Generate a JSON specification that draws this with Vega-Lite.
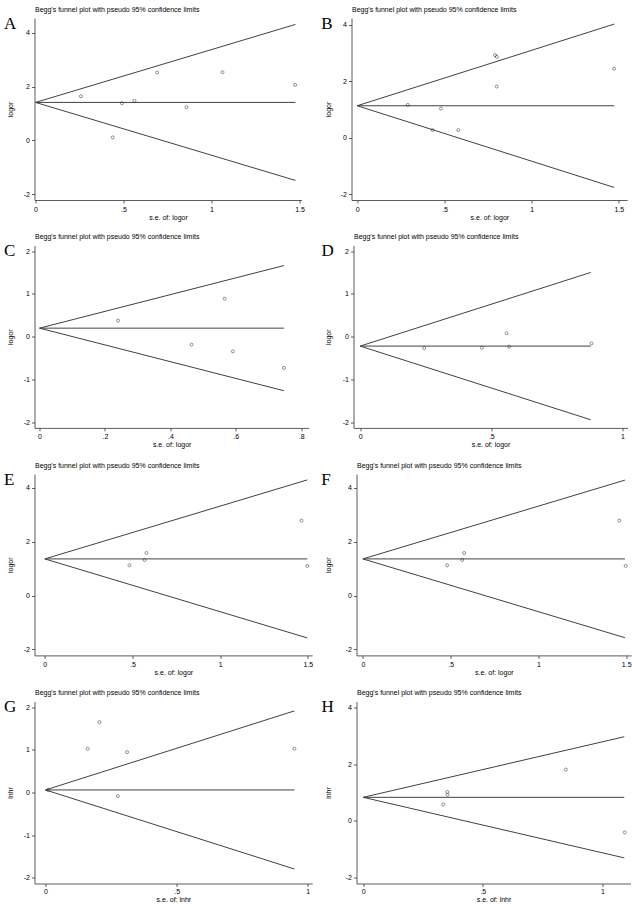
{
  "$schema": "https://vega.github.io/schema/vega-lite/v6.json",
  "background": "white",
  "padding": {"left": 3.5, "top": 5, "right": 0, "bottom": 0},
  "datasets": {
    "lines": [
      {"panel":"A","line":"u","se":0,"v":1.41},{"panel":"A","line":"u","se":1.477,"v":4.305},
      {"panel":"A","line":"c","se":0,"v":1.41},{"panel":"A","line":"c","se":1.477,"v":1.41},
      {"panel":"A","line":"l","se":0,"v":1.41},{"panel":"A","line":"l","se":1.477,"v":-1.485},
      {"panel":"B","line":"u","se":0,"v":1.13},{"panel":"B","line":"u","se":1.473,"v":4.017},
      {"panel":"B","line":"c","se":0,"v":1.13},{"panel":"B","line":"c","se":1.473,"v":1.13},
      {"panel":"B","line":"l","se":0,"v":1.13},{"panel":"B","line":"l","se":1.473,"v":-1.757},
      {"panel":"C","line":"u","se":0,"v":0.2},{"panel":"C","line":"u","se":0.747,"v":1.664},
      {"panel":"C","line":"c","se":0,"v":0.2},{"panel":"C","line":"c","se":0.747,"v":0.2},
      {"panel":"C","line":"l","se":0,"v":0.2},{"panel":"C","line":"l","se":0.747,"v":-1.264},
      {"panel":"D","line":"u","se":0,"v":-0.22},{"panel":"D","line":"u","se":0.879,"v":1.503},
      {"panel":"D","line":"c","se":0,"v":-0.22},{"panel":"D","line":"c","se":0.879,"v":-0.22},
      {"panel":"D","line":"l","se":0,"v":-0.22},{"panel":"D","line":"l","se":0.879,"v":-1.943},
      {"panel":"E","line":"u","se":0,"v":1.36},{"panel":"E","line":"u","se":1.497,"v":4.294},
      {"panel":"E","line":"c","se":0,"v":1.36},{"panel":"E","line":"c","se":1.497,"v":1.36},
      {"panel":"E","line":"l","se":0,"v":1.36},{"panel":"E","line":"l","se":1.497,"v":-1.574},
      {"panel":"F","line":"u","se":0,"v":1.36},{"panel":"F","line":"u","se":1.493,"v":4.286},
      {"panel":"F","line":"c","se":0,"v":1.36},{"panel":"F","line":"c","se":1.493,"v":1.36},
      {"panel":"F","line":"l","se":0,"v":1.36},{"panel":"F","line":"l","se":1.493,"v":-1.566},
      {"panel":"G","line":"u","se":0,"v":0.06},{"panel":"G","line":"u","se":0.949,"v":1.92},
      {"panel":"G","line":"c","se":0,"v":0.06},{"panel":"G","line":"c","se":0.949,"v":0.06},
      {"panel":"G","line":"l","se":0,"v":0.06},{"panel":"G","line":"l","se":0.949,"v":-1.80},
      {"panel":"H","line":"u","se":0,"v":0.83},{"panel":"H","line":"u","se":1.091,"v":2.968},
      {"panel":"H","line":"c","se":0,"v":0.83},{"panel":"H","line":"c","se":1.091,"v":0.83},
      {"panel":"H","line":"l","se":0,"v":0.83},{"panel":"H","line":"l","se":1.091,"v":-1.308}
    ],
    "pts": [
      {"panel":"A","se":0.258,"v":1.64},{"panel":"A","se":0.439,"v":0.11},{"panel":"A","se":0.491,"v":1.38},{"panel":"A","se":0.5625,"v":1.47},
      {"panel":"A","se":0.691,"v":2.52},{"panel":"A","se":0.858,"v":1.23},{"panel":"A","se":1.0625,"v":2.53},{"panel":"A","se":1.475,"v":2.06},
      {"panel":"B","se":0.29,"v":1.16},{"panel":"B","se":0.432,"v":0.27},{"panel":"B","se":0.48,"v":1.03},{"panel":"B","se":0.579,"v":0.27},
      {"panel":"B","se":0.79,"v":2.92},{"panel":"B","se":0.80,"v":2.86},{"panel":"B","se":0.80,"v":1.81},{"panel":"B","se":1.472,"v":2.44},
      {"panel":"C","se":0.240,"v":0.375},{"panel":"C","se":0.465,"v":-0.186},{"panel":"C","se":0.566,"v":0.89},{"panel":"C","se":0.591,"v":-0.342},{"panel":"C","se":0.747,"v":-0.73},
      {"panel":"D","se":0.244,"v":-0.265},{"panel":"D","se":0.464,"v":-0.257},{"panel":"D","se":0.558,"v":0.078},{"panel":"D","se":0.568,"v":-0.234},{"panel":"D","se":0.882,"v":-0.156},
      {"panel":"E","se":0.483,"v":1.12},{"panel":"E","se":0.569,"v":1.32},{"panel":"E","se":0.580,"v":1.58},{"panel":"E","se":1.464,"v":2.78},{"panel":"E","se":1.497,"v":1.10},
      {"panel":"F","se":0.48,"v":1.12},{"panel":"F","se":0.566,"v":1.32},{"panel":"F","se":0.577,"v":1.58},{"panel":"F","se":1.461,"v":2.78},{"panel":"F","se":1.497,"v":1.10},
      {"panel":"G","se":0.01,"v":0.06},{"panel":"G","se":0.161,"v":1.03},{"panel":"G","se":0.206,"v":1.655},{"panel":"G","se":0.276,"v":-0.086},{"panel":"G","se":0.311,"v":0.95},{"panel":"G","se":0.949,"v":1.03},
      {"panel":"H","se":0.334,"v":0.58},{"panel":"H","se":0.352,"v":0.92},{"panel":"H","se":0.352,"v":1.02},{"panel":"H","se":0.847,"v":1.81},{"panel":"H","se":1.093,"v":-0.41}
    ]
  },
  "columns": 2,
  "align": "none",
  "spacing": {"row": 12.5, "column": 7},
  "concat": [
      {"width": 267, "height": 182, "title": {"text": "A"},
       "layer": [
        {"data": {"name": "lines"}, "transform": [{"filter": "datum.panel === 'A'"}],
         "mark": {"type": "line", "color": "#404040", "strokeWidth": 1},
         "encoding": {
          "x": {"field": "se", "type": "quantitative", "scale": {"domain": [-0.0057, 1.5114], "nice": false, "zero": false}, "axis": {"values": [0, 0.5, 1, 1.5], "title": "s.e. of: logor", "labelExpr": "datum.value > 0 && datum.value < 1 ? slice(toString(datum.value), 1) : toString(datum.value)"}},
          "y": {"field": "v", "type": "quantitative", "scale": {"domain": [-2.212, 4.543], "nice": false, "zero": false}, "axis": {"values": [-2, 0, 2, 4], "title": "logor", "titlePadding": 9.3, "labelExpr": "toString(datum.value)"}},
          "detail": {"field": "line"}}},
        {"data": {"name": "pts"}, "transform": [{"filter": "datum.panel === 'A'"}],
         "mark": {"type": "point", "shape": "circle", "filled": false, "size": 9, "strokeWidth": 0.7, "color": "#222"},
         "encoding": {
          "x": {"field": "se", "type": "quantitative", "scale": {"domain": [-0.0057, 1.5114], "nice": false, "zero": false}, "axis": {"orient": "top", "title": "Begg's funnel plot with pseudo 95% confidence limits", "labels": false, "ticks": false, "domain": false, "titleAnchor": "start", "titleAlign": "left", "titlePadding": 6}},
          "y": {"field": "v", "type": "quantitative", "scale": {"domain": [-2.212, 4.543], "nice": false, "zero": false}, "axis": {"values": [-2, 0, 2, 4], "title": "logor", "titlePadding": 9.3, "labelExpr": "toString(datum.value)"}}}}
       ],
       "resolve": {"axis": {"x": "independent"}}},
      {"width": 275.7, "height": 182, "title": {"text": "B"},
       "layer": [
        {"data": {"name": "lines"}, "transform": [{"filter": "datum.panel === 'B'"}],
         "mark": {"type": "line", "color": "#404040", "strokeWidth": 1},
         "encoding": {
          "x": {"field": "se", "type": "quantitative", "scale": {"domain": [-0.0327, 1.5476], "nice": false, "zero": false}, "axis": {"values": [0, 0.5, 1, 1.5], "title": "s.e. of: logor", "labelExpr": "datum.value > 0 && datum.value < 1 ? slice(toString(datum.value), 1) : toString(datum.value)"}},
          "y": {"field": "v", "type": "quantitative", "scale": {"domain": [-2.201, 4.232], "nice": false, "zero": false}, "axis": {"values": [-2, 0, 2, 4], "title": "logor", "titlePadding": 9.1, "labelExpr": "toString(datum.value)"}},
          "detail": {"field": "line"}}},
        {"data": {"name": "pts"}, "transform": [{"filter": "datum.panel === 'B'"}],
         "mark": {"type": "point", "shape": "circle", "filled": false, "size": 9, "strokeWidth": 0.7, "color": "#222"},
         "encoding": {
          "x": {"field": "se", "type": "quantitative", "scale": {"domain": [-0.0327, 1.5476], "nice": false, "zero": false}, "axis": {"orient": "top", "title": "Begg's funnel plot with pseudo 95% confidence limits", "labels": false, "ticks": false, "domain": false, "titleAnchor": "start", "titleAlign": "left", "titlePadding": 6}},
          "y": {"field": "v", "type": "quantitative", "scale": {"domain": [-2.201, 4.232], "nice": false, "zero": false}, "axis": {"values": [-2, 0, 2, 4], "title": "logor", "titlePadding": 9.1, "labelExpr": "toString(datum.value)"}}}}
       ],
       "resolve": {"axis": {"x": "independent"}}},
      {"width": 274.3, "height": 182.4, "title": {"text": "C"},
       "layer": [
        {"data": {"name": "lines"}, "transform": [{"filter": "datum.panel === 'C'"}],
         "mark": {"type": "line", "color": "#404040", "strokeWidth": 1},
         "encoding": {
          "x": {"field": "se", "type": "quantitative", "scale": {"domain": [-0.0153, 0.8232], "nice": false, "zero": false}, "axis": {"values": [0, 0.2, 0.4, 0.6, 0.8], "title": "s.e. of: logor", "labelExpr": "datum.value > 0 && datum.value < 1 ? slice(toString(datum.value), 1) : toString(datum.value)"}},
          "y": {"field": "v", "type": "quantitative", "scale": {"domain": [-2.133, 2.133], "nice": false, "zero": false}, "axis": {"values": [-2, -1, 0, 1, 2], "title": "logor", "titlePadding": 9.3, "labelExpr": "toString(datum.value)"}},
          "detail": {"field": "line"}}},
        {"data": {"name": "pts"}, "transform": [{"filter": "datum.panel === 'C'"}],
         "mark": {"type": "point", "shape": "circle", "filled": false, "size": 9, "strokeWidth": 0.7, "color": "#222"},
         "encoding": {
          "x": {"field": "se", "type": "quantitative", "scale": {"domain": [-0.0153, 0.8232], "nice": false, "zero": false}, "axis": {"orient": "top", "title": "Begg's funnel plot with pseudo 95% confidence limits", "labels": false, "ticks": false, "domain": false, "titleAnchor": "start", "titleAlign": "left", "titlePadding": 6}},
          "y": {"field": "v", "type": "quantitative", "scale": {"domain": [-2.133, 2.133], "nice": false, "zero": false}, "axis": {"values": [-2, -1, 0, 1, 2], "title": "logor", "titlePadding": 9.3, "labelExpr": "toString(datum.value)"}}}}
       ],
       "resolve": {"axis": {"x": "independent"}}},
      {"width": 274, "height": 182.4, "title": {"text": "D"},
       "layer": [
        {"data": {"name": "lines"}, "transform": [{"filter": "datum.panel === 'D'"}],
         "mark": {"type": "line", "color": "#404040", "strokeWidth": 1},
         "encoding": {
          "x": {"field": "se", "type": "quantitative", "scale": {"domain": [-0.0254, 1.019], "nice": false, "zero": false}, "axis": {"values": [0, 0.5, 1], "title": "s.e. of: logor", "labelExpr": "datum.value > 0 && datum.value < 1 ? slice(toString(datum.value), 1) : toString(datum.value)"}},
          "y": {"field": "v", "type": "quantitative", "scale": {"domain": [-2.133, 2.133], "nice": false, "zero": false}, "axis": {"values": [-2, -1, 0, 1, 2], "title": "logor", "titlePadding": 10.8, "labelExpr": "toString(datum.value)"}},
          "detail": {"field": "line"}}},
        {"data": {"name": "pts"}, "transform": [{"filter": "datum.panel === 'D'"}],
         "mark": {"type": "point", "shape": "circle", "filled": false, "size": 9, "strokeWidth": 0.7, "color": "#222"},
         "encoding": {
          "x": {"field": "se", "type": "quantitative", "scale": {"domain": [-0.0254, 1.019], "nice": false, "zero": false}, "axis": {"orient": "top", "title": "Begg's funnel plot with pseudo 95% confidence limits", "labels": false, "ticks": false, "domain": false, "titleAnchor": "start", "titleAlign": "left", "titlePadding": 6}},
          "y": {"field": "v", "type": "quantitative", "scale": {"domain": [-2.133, 2.133], "nice": false, "zero": false}, "axis": {"values": [-2, -1, 0, 1, 2], "title": "logor", "titlePadding": 10.8, "labelExpr": "toString(datum.value)"}}}}
       ],
       "resolve": {"axis": {"x": "independent"}}},
      {"width": 277.7, "height": 181.4, "title": {"text": "E"},
       "layer": [
        {"data": {"name": "lines"}, "transform": [{"filter": "datum.panel === 'E'"}],
         "mark": {"type": "line", "color": "#404040", "strokeWidth": 1},
         "encoding": {
          "x": {"field": "se", "type": "quantitative", "scale": {"domain": [-0.0588, 1.525], "nice": false, "zero": false}, "axis": {"values": [0, 0.5, 1, 1.5], "title": "s.e. of: logor", "labelExpr": "datum.value > 0 && datum.value < 1 ? slice(toString(datum.value), 1) : toString(datum.value)"}},
          "y": {"field": "v", "type": "quantitative", "scale": {"domain": [-2.223, 4.513], "nice": false, "zero": false}, "axis": {"values": [-2, 0, 2, 4], "title": "logor", "titlePadding": 9.3, "labelExpr": "toString(datum.value)"}},
          "detail": {"field": "line"}}},
        {"data": {"name": "pts"}, "transform": [{"filter": "datum.panel === 'E'"}],
         "mark": {"type": "point", "shape": "circle", "filled": false, "size": 9, "strokeWidth": 0.7, "color": "#222"},
         "encoding": {
          "x": {"field": "se", "type": "quantitative", "scale": {"domain": [-0.0588, 1.525], "nice": false, "zero": false}, "axis": {"orient": "top", "title": "Begg's funnel plot with pseudo 95% confidence limits", "labels": false, "ticks": false, "domain": false, "titleAnchor": "start", "titleAlign": "left", "titlePadding": 6}},
          "y": {"field": "v", "type": "quantitative", "scale": {"domain": [-2.223, 4.513], "nice": false, "zero": false}, "axis": {"values": [-2, 0, 2, 4], "title": "logor", "titlePadding": 9.3, "labelExpr": "toString(datum.value)"}}}}
       ],
       "resolve": {"axis": {"x": "independent"}}},
      {"width": 274.7, "height": 181.4, "title": {"text": "F"},
       "layer": [
        {"data": {"name": "lines"}, "transform": [{"filter": "datum.panel === 'F'"}],
         "mark": {"type": "line", "color": "#404040", "strokeWidth": 1},
         "encoding": {
          "x": {"field": "se", "type": "quantitative", "scale": {"domain": [-0.0363, 1.5285], "nice": false, "zero": false}, "axis": {"values": [0, 0.5, 1, 1.5], "title": "s.e. of: logor", "labelExpr": "datum.value > 0 && datum.value < 1 ? slice(toString(datum.value), 1) : toString(datum.value)"}},
          "y": {"field": "v", "type": "quantitative", "scale": {"domain": [-2.223, 4.513], "nice": false, "zero": false}, "axis": {"values": [-2, 0, 2, 4], "title": "logor", "titlePadding": 14.1, "labelExpr": "toString(datum.value)"}},
          "detail": {"field": "line"}}},
        {"data": {"name": "pts"}, "transform": [{"filter": "datum.panel === 'F'"}],
         "mark": {"type": "point", "shape": "circle", "filled": false, "size": 9, "strokeWidth": 0.7, "color": "#222"},
         "encoding": {
          "x": {"field": "se", "type": "quantitative", "scale": {"domain": [-0.0363, 1.5285], "nice": false, "zero": false}, "axis": {"orient": "top", "title": "Begg's funnel plot with pseudo 95% confidence limits", "labels": false, "ticks": false, "domain": false, "titleAnchor": "start", "titleAlign": "left", "titlePadding": 6}},
          "y": {"field": "v", "type": "quantitative", "scale": {"domain": [-2.223, 4.513], "nice": false, "zero": false}, "axis": {"values": [-2, 0, 2, 4], "title": "logor", "titlePadding": 14.1, "labelExpr": "toString(datum.value)"}}}}
       ],
       "resolve": {"axis": {"x": "independent"}}},
      {"width": 277.7, "height": 182, "title": {"text": "G"},
       "layer": [
        {"data": {"name": "lines"}, "transform": [{"filter": "datum.panel === 'G'"}],
         "mark": {"type": "line", "color": "#404040", "strokeWidth": 1},
         "encoding": {
          "x": {"field": "se", "type": "quantitative", "scale": {"domain": [-0.0419, 1.0168], "nice": false, "zero": false}, "axis": {"values": [0, 0.5, 1], "title": "s.e. of: lnhr", "labelPadding": 1, "titlePadding": 0.5, "labelExpr": "datum.value > 0 && datum.value < 1 ? slice(toString(datum.value), 1) : toString(datum.value)"}},
          "y": {"field": "v", "type": "quantitative", "scale": {"domain": [-2.141, 2.141], "nice": false, "zero": false}, "axis": {"values": [-2, -1, 0, 1, 2], "title": "lnhr", "titlePadding": 9.3, "labelExpr": "toString(datum.value)"}},
          "detail": {"field": "line"}}},
        {"data": {"name": "pts"}, "transform": [{"filter": "datum.panel === 'G'"}],
         "mark": {"type": "point", "shape": "circle", "filled": false, "size": 9, "strokeWidth": 0.7, "color": "#222"},
         "encoding": {
          "x": {"field": "se", "type": "quantitative", "scale": {"domain": [-0.0419, 1.0168], "nice": false, "zero": false}, "axis": {"orient": "top", "title": "Begg's funnel plot with pseudo 95% confidence limits", "labels": false, "ticks": false, "domain": false, "titleAnchor": "start", "titleAlign": "left", "titlePadding": 6}},
          "y": {"field": "v", "type": "quantitative", "scale": {"domain": [-2.141, 2.141], "nice": false, "zero": false}, "axis": {"values": [-2, -1, 0, 1, 2], "title": "lnhr", "titlePadding": 9.3, "labelExpr": "toString(datum.value)"}}}}
       ],
       "resolve": {"axis": {"x": "independent"}}},
      {"width": 274, "height": 182, "title": {"text": "H"},
       "layer": [
        {"data": {"name": "lines"}, "transform": [{"filter": "datum.panel === 'H'"}],
         "mark": {"type": "line", "color": "#404040", "strokeWidth": 1},
         "encoding": {
          "x": {"field": "se", "type": "quantitative", "scale": {"domain": [-0.0279, 1.117], "nice": false, "zero": false}, "axis": {"values": [0, 0.5, 1], "title": "s.e. of: lnhr", "labelPadding": 1, "titlePadding": 0.5, "labelExpr": "datum.value > 0 && datum.value < 1 ? slice(toString(datum.value), 1) : toString(datum.value)"}},
          "y": {"field": "v", "type": "quantitative", "scale": {"domain": [-2.212, 4.212], "nice": false, "zero": false}, "axis": {"values": [-2, 0, 2, 4], "title": "lnhr", "titlePadding": 13.8, "labelExpr": "toString(datum.value)"}},
          "detail": {"field": "line"}}},
        {"data": {"name": "pts"}, "transform": [{"filter": "datum.panel === 'H'"}],
         "mark": {"type": "point", "shape": "circle", "filled": false, "size": 9, "strokeWidth": 0.7, "color": "#222"},
         "encoding": {
          "x": {"field": "se", "type": "quantitative", "scale": {"domain": [-0.0279, 1.117], "nice": false, "zero": false}, "axis": {"orient": "top", "title": "Begg's funnel plot with pseudo 95% confidence limits", "labels": false, "ticks": false, "domain": false, "titleAnchor": "start", "titleAlign": "left", "titlePadding": 6}},
          "y": {"field": "v", "type": "quantitative", "scale": {"domain": [-2.212, 4.212], "nice": false, "zero": false}, "axis": {"values": [-2, 0, 2, 4], "title": "lnhr", "titlePadding": 13.8, "labelExpr": "toString(datum.value)"}}}}
       ],
       "resolve": {"axis": {"x": "independent"}}}
  ],
  "config": {
    "view": {"stroke": null},
    "font": "Liberation Sans",
    "title": {"font": "Liberation Serif", "fontSize": 17, "fontWeight": "normal", "anchor": "start", "frame": "bounds", "offset": -27.5, "dx": -3, "color": "#000"},
    "axis": {"grid": false, "domainColor": "#333", "tickColor": "#333", "labelColor": "#000", "titleColor": "#000", "labelFontSize": 7, "titleFontSize": 7, "titleFontWeight": "normal", "labelFont": "Liberation Sans", "titleFont": "Liberation Sans", "tickSize": 3, "labelPadding": 2, "domainWidth": 0.8, "tickWidth": 0.8, "minExtent": 0},
    "axisY": {"labelAngle": 0, "minExtent": 0},
    "axisX": {"titlePadding": 1, "labelFlush": false}
  }
}
